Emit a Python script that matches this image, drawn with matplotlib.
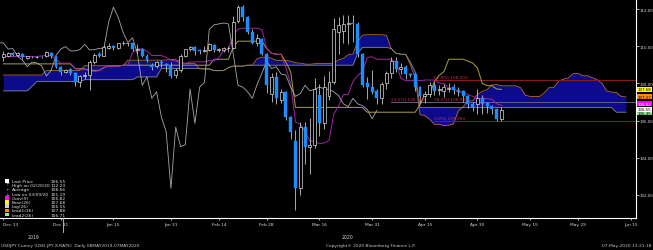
import numpy as np
import pandas as pd
import matplotlib
matplotlib.use("Agg")
import matplotlib.pyplot as plt
from matplotlib.patches import Rectangle
from matplotlib.lines import Line2D

# daily USDJPY bars, 13 Dec 2019 .. 07 May 2020 (weekdays)
opens = [109.40, 109.45, 109.62, 109.55, 109.60, 109.38, 109.42, 109.40, 109.42, 109.45,
         109.65, 109.45, 108.90, 108.62, 108.75, 108.55, 108.10, 108.40, 108.45, 109.15,
         109.58, 109.48, 109.92, 110.00, 109.90, 110.15, 110.15, 110.18, 109.82, 109.85,
         109.50, 109.00, 108.95, 109.15, 109.05, 108.95, 108.45, 108.70, 109.50, 109.85,
         109.98, 109.80, 109.75, 109.78, 110.05, 109.80, 109.78, 109.88, 109.90, 111.35,
         112.10, 111.55, 110.75, 110.20, 110.40, 109.60, 107.45, 108.35, 107.10, 107.55,
         106.20, 104.90, 102.35, 105.65, 104.60, 104.70, 107.35, 105.85, 107.30, 108.10,
         110.75, 110.80, 111.20, 111.25, 111.20, 109.60, 108.00, 107.80, 107.60, 107.20,
         108.00, 108.55, 109.20, 108.80, 108.90, 108.50, 108.50, 107.80, 107.30, 107.45,
         107.90, 107.62, 107.60, 107.70, 107.80, 107.66, 107.60, 107.30, 106.90, 106.90,
         107.20, 106.97, 106.80, 106.64, 106.10]
highs = [109.75, 109.70, 109.70, 109.70, 109.65, 109.50, 109.50, 109.48, 109.45, 109.72,
         109.70, 109.50, 108.95, 108.75, 108.85, 108.60, 108.45, 108.60, 109.25, 109.65,
         109.70, 110.05, 110.20, 110.05, 110.20, 110.30, 110.20, 110.20, 110.10, 109.90,
         109.60, 109.10, 109.20, 109.25, 109.10, 109.15, 108.85, 109.60, 109.85, 110.00,
         110.02, 109.85, 110.00, 110.15, 110.10, 109.90, 109.95, 110.00, 111.60, 112.23,
         112.20, 111.65, 110.95, 110.65, 110.45, 109.65, 108.55, 108.60, 107.70, 107.60,
         106.25, 105.50, 105.90, 105.95, 106.15, 108.30, 107.95, 108.40, 108.65, 111.50,
         111.55, 111.70, 111.70, 111.70, 111.30, 109.65, 108.35, 108.70, 107.70, 108.05,
         108.65, 109.40, 109.40, 109.10, 109.00, 108.55, 108.55, 107.85, 107.60, 108.10,
         108.10, 107.90, 107.95, 108.00, 107.95, 107.80, 107.65, 107.35, 107.00, 107.70,
         107.35, 107.00, 106.85, 106.70, 106.75]
lows = [109.20, 109.40, 109.50, 109.50, 109.30, 109.30, 109.35, 109.35, 109.38, 109.40,
        109.35, 108.85, 108.45, 108.55, 108.45, 107.85, 107.80, 108.25, 107.65, 109.05,
        109.40, 109.45, 109.85, 109.80, 109.85, 110.05, 110.00, 109.75, 109.60, 109.40,
        109.15, 108.70, 108.85, 108.90, 108.60, 108.30, 108.30, 108.60, 109.40, 109.75,
        109.55, 109.60, 109.70, 109.75, 109.70, 109.70, 109.70, 109.70, 109.85, 111.25,
        111.35, 110.65, 110.10, 110.00, 109.55, 107.50, 107.00, 106.90, 106.95, 106.05,
        105.00, 101.19, 102.00, 103.65, 103.10, 104.50, 105.15, 105.55, 107.10, 107.95,
        109.60, 110.20, 110.10, 110.25, 109.40, 107.80, 107.15, 107.45, 106.90, 106.90,
        107.70, 108.30, 108.60, 108.50, 108.25, 108.35, 107.60, 106.95, 106.95, 107.25,
        107.40, 107.40, 107.25, 107.55, 107.45, 107.30, 107.00, 106.70, 106.50, 106.35,
        106.35, 106.40, 106.35, 105.99, 106.00]
closes = [109.60, 109.62, 109.55, 109.62, 109.40, 109.45, 109.40, 109.42, 109.40, 109.68,
          109.45, 108.90, 108.62, 108.72, 108.55, 108.10, 108.40, 108.45, 109.15, 109.55,
          109.48, 109.95, 110.02, 109.90, 110.15, 110.18, 110.18, 109.85, 109.87, 109.45,
          109.25, 108.90, 109.15, 109.10, 108.95, 108.40, 108.70, 109.50, 109.85, 109.98,
          109.75, 109.75, 109.82, 110.10, 109.80, 109.82, 109.88, 109.90, 111.30, 112.10,
          111.55, 110.75, 110.20, 110.45, 109.60, 107.90, 108.35, 107.20, 107.55, 106.20,
          105.40, 102.35, 105.65, 104.60, 104.70, 107.70, 105.85, 107.80, 108.05, 110.90,
          111.15, 111.20, 111.25, 111.20, 109.60, 107.90, 107.80, 107.55, 107.20, 107.95,
          108.55, 109.20, 108.80, 108.90, 108.50, 108.45, 107.80, 107.30, 107.45, 107.90,
          107.60, 107.68, 107.80, 107.72, 107.66, 107.55, 107.34, 106.90, 106.75, 107.20,
          106.90, 106.80, 106.60, 106.10, 106.55]

# ichimoku lines as shown on the chart
conv = [109.45] * 8 + [109.48, 109.51, 109.51, 109.29, 109.09, 109.09, 109.09, 108.79, 108.76, 108.76,
        108.68, 108.65, 108.68, 108.85, 108.93, 108.93, 108.93, 108.98, 108.98, 109.68, 109.85, 109.85,
        109.73, 109.50, 109.50, 109.50, 109.40, 109.25, 109.20, 109.10, 109.08, 109.15, 109.16, 109.16,
        109.16, 109.23, 109.23, 109.38, 109.78, 109.85, 110.58, 110.92, 110.97, 110.97, 110.97, 110.97,
        110.89, 109.87, 109.62, 109.57, 109.55, 108.85, 107.98, 105.92, 105.82, 105.42, 104.90, 104.90,
        104.75, 104.80, 104.92, 106.35, 106.78, 107.40, 107.40, 108.10, 108.43, 108.63, 109.40, 109.43,
        109.30, 109.30, 109.30, 109.30, 109.10, 108.28, 108.15, 108.15, 108.15, 108.15, 108.18, 108.18,
        108.18, 108.03, 107.98, 107.75, 107.75, 107.53, 107.53, 107.40, 107.30, 107.18, 107.18, 107.18,
        107.15, 106.90, 106.82]
base = [109.05] * 15 + [108.80, 108.78, 108.78, 108.70, 108.70, 108.70, 108.85, 108.93, 108.93, 108.93] \
    + [108.98] * 19 + [109.30] * 4 + [109.95] + [110.27] * 6 \
    + [109.87, 109.62, 109.57, 109.57, 109.14, 108.62] + [106.71] * 14 + [106.70] + [106.45] * 11 \
    + [106.85, 107.40, 107.40, 108.10, 108.43, 108.63, 109.30, 109.30, 109.30, 109.30,
       109.20, 109.10, 108.83, 108.00, 107.88, 107.88, 107.70, 107.68]
lead1 = [108.45] * 9 + [108.70] * 8 + [108.95] * 9 + [109.25] * 8 \
    + [109.26, 109.28, 109.28, 109.17, 109.07, 109.07, 109.07, 108.79, 108.77, 108.77,
       108.69, 108.68, 108.69, 108.85, 108.93, 108.93, 108.93, 108.98, 108.98, 109.33,
       109.41, 109.41, 109.35, 109.24, 109.24, 109.24, 109.19, 109.11, 109.09, 109.04,
       109.03, 109.06, 109.07, 109.07, 109.07, 109.10, 109.26, 109.34, 109.54, 109.58,
       110.26, 110.59, 110.62, 110.62, 110.62, 110.62, 110.58, 109.87, 109.62, 109.57,
       109.56, 109.00, 108.30, 106.32, 106.27, 106.07, 105.80, 105.80, 105.73, 105.75,
       105.82, 106.53, 106.74, 107.06, 107.06, 107.41, 107.57, 107.66, 107.92, 107.94,
       107.87, 107.87, 107.87, 107.87, 107.77, 107.36, 107.30, 107.30, 107.30, 107.50,
       107.79, 107.79, 108.14, 108.23, 108.30, 108.53, 108.53, 108.41, 108.41, 108.30,
       108.20, 108.00, 107.59, 107.53, 107.51, 107.30, 107.27]
lead2 = [107.60] * 6 + [107.85] + [108.10] * 10 + [108.20] * 11 + [108.35] * 5 + [108.80] * 8 \
    + [108.79] * 3 + [108.69] * 3 + [108.85] + [108.93] * 3 + [108.98] * 23 + [109.63] \
    + [109.94] * 6 + [109.87, 109.62, 109.57, 109.57, 109.14, 108.62] + [106.71] * 40 \
    + [106.70] + [106.45] * 3

tick_dates = ["2019-12-13", "2019-12-31", "2020-01-15", "2020-01-31", "2020-02-14", "2020-02-28",
              "2020-03-16", "2020-03-31", "2020-04-15", "2020-04-30", "2020-05-15", "2020-05-29",
              "2020-06-15"]
tick_labels = ["Dec 13", "Dec 31", "Jan 15", "Jan 31", "Feb 14", "Feb 28", "Mar 16", "Mar 31",
               "Apr 15", "Apr 30", "May 15", "May 29", "Jun 15"]

legend_names = ["Last Price", "High on 02/20/20", "Average", "Low on 03/09/20", "Conv(9)",
                "Base(26)", "Lag(26)", "Lead1(26)", "Lead2(26)"]
legend_values = ["106.55", "112.23", "108.66", "101.19", "106.82", "107.68", "106.55", "107.88", "106.71"]

fib_labels = ["23.6%| 106.759", "38.2%| 106.991", "61.8%| 108.203", "0.0%| 105.993"]
fib_levels = [107.02, 107.02, 108.20, 105.99]

days = pd.bdate_range("2019-12-13", "2020-06-30")
x = np.arange(len(opens))
xl = np.arange(len(lead1))
W, H = 653, 251

BG = "black"
BLUE = "#1c8cff"
fig = plt.figure(figsize=(W / 100, H / 100), dpi=100, facecolor=BG)
ax = fig.add_axes([0, 32 / H, 636 / W, 219 / H], facecolor=BG)
ax.set_xlim(-0.69, 132.1)
ax.set_ylim(100.76, 112.54)

# cloud
ax.fill_between(xl, lead1, lead2, color="#0b0b8c", lw=0, zorder=1)
ax.plot(xl, lead1, color="#b8693a", lw=0.6, zorder=2)
ax.plot(xl, lead2, color="#7f8a78", lw=0.6, zorder=2)
ax.plot(x, base, color="#a8a040", lw=0.7, zorder=3)
ax.plot(x, conv, color="#a324a3", lw=0.7, zorder=3)
ax.plot(x - 26, closes, color="#a8a8a8", lw=0.6, zorder=3)

# fib lines
for lvl, c, x0 in [(108.20, "#8c1c1c", 90), (105.99, "#8c1c1c", 90), (107.02, "#6a5a8a", 81)]:
    ax.plot([x0, 132.1], [lvl, lvl], color=c, lw=0.7, zorder=2)
for lab, lvl, xx in zip(fib_labels, fib_levels, [81, 90, 90, 90]):
    ax.text(xx, lvl + 0.08, lab, color="#d02a55", fontsize=3.1, va="bottom", ha="left", zorder=6)

# candles
op, cl, hi, lo = map(np.array, (opens, closes, highs, lows))
up = cl >= op
ax.vlines(x, lo, hi, color="#c4c4c4", lw=0.6, zorder=4)
body = np.maximum(np.abs(cl - op), 0.03)
bot = np.minimum(op, cl)
ax.bar(x[up], body[up], bottom=bot[up], width=0.62, color=BG, edgecolor="#dcdcdc", lw=0.5, zorder=5)
ax.bar(x[~up], body[~up], bottom=bot[~up], width=0.62, color=BLUE, edgecolor=BLUE, lw=0.3, zorder=5)

# axes styling
for s in ["left", "top"]:
    ax.spines[s].set_visible(False)
for s in ["right", "bottom"]:
    ax.spines[s].set_color("white")
    ax.spines[s].set_linewidth(0.8)
ax.yaxis.tick_right()
ax.set_yticks(np.arange(102, 113, 2))
ax.set_yticklabels([f"{v:.2f}" for v in np.arange(102, 113, 2)])
ax.tick_params(axis="y", colors="white", labelsize=2.9, length=2, width=0.5, pad=0.8, labelcolor="#d8d8d8")
tick_pos = [days.get_loc(pd.Timestamp(d)) for d in tick_dates]
ax.set_xticks(tick_pos)
ax.set_xticklabels(tick_labels)
ax.tick_params(axis="x", colors="white", labelsize=3.2, length=1.5, width=0.5, pad=1.5, labelcolor="#d8d8d8")
ax.get_xticklabels()[0].set_horizontalalignment("left")

# price tags on right axis
tags = [(base[-1], "107.68", "#ffff00", "black", 0),
        (lead1[-1], "107.27", "#ff8c00", "black", 0),
        (conv[-1], "106.82", "#ff00ff", "white", 1.0),
        (lead2[-1], "106.45", "#90ee90", "black", -0.5),
        (closes[-1], "106.55", "white", "black", 0.8)]
for val, txt, fc, tc, dy in tags:
    ax.annotate(txt, xy=(1.0, val), xycoords=("axes fraction", "data"), xytext=(1.3, dy),
                textcoords="offset points", fontsize=2.9, color=tc, va="center", ha="left",
                bbox=dict(boxstyle="square,pad=0.12", fc=fc, ec="none"), annotation_clip=False, zorder=8)


def px(xp, yp):
    return xp / W, 1 - yp / H


# year separator and year labels
sep = days.get_loc(pd.Timestamp("2019-12-31")) + 0.5
xs = ax.transData.transform((sep, 0))[0] / fig.dpi / fig.get_figwidth()
fig.add_artist(Line2D([xs, xs], [px(0, 219)[1], px(0, 233)[1]], color="#c8c8c8", lw=0.6))
fig.text(*px(33, 238), "2019", color="#d8d8d8", fontsize=3.3, ha="center", va="center")
fig.text(*px(348, 238), "2020", color="#d8d8d8", fontsize=3.3, ha="center", va="center")

# footer
fig.text(*px(1, 246), "USDJPY Curncy (USD-JPY X-RATE)  Daily 08MAY2019-07MAY2020", color="#c8c8c8",
         fontsize=3.2, ha="left", va="center")
fig.text(*px(326, 246), "Copyright\u00ae 2020 Bloomberg Finance L.P.", color="#c8c8c8",
         fontsize=3.2, ha="left", va="center")
fig.text(*px(652, 246), "07-May-2020 13:21:18", color="#c8c8c8", fontsize=3.2, ha="right", va="center")

# legend block
fig.add_artist(Rectangle(px(2, 218), 66 / W, 41 / H, transform=fig.transFigure, fc=BG, ec="none", zorder=9))
marks = [("sq", "white"), ("txt", "\u22a4"), ("txt", "+"), ("txt", "\u22a5"), ("sq", "#ff00ff"),
         ("sq", "#ffff00"), ("sq", "#d0d0d0"), ("sq", "#ff8c00"), ("sq", "#90ee90")]
for k, (name, val, (kind, m)) in enumerate(zip(legend_names, legend_values, marks)):
    yy = 182 + 4.2 * k
    if kind == "sq":
        fig.add_artist(Rectangle(px(5, yy + 1.7), 4 / W, 3.4 / H, transform=fig.transFigure,
                                 fc=m, ec="none", zorder=10))
    else:
        t = fig.text(*px(7, yy), m, color="#c0c0c0", fontsize=3.2, ha="center", va="center")
        t.set_zorder(10)
    t1 = fig.text(*px(12, yy), name, color="#e0e0e0", fontsize=3.2, ha="left", va="center")
    t2 = fig.text(*px(66, yy), val, color="#e0e0e0", fontsize=3.2, ha="right", va="center")
    t1.set_zorder(10)
    t2.set_zorder(10)

fig.savefig("out.png", dpi=100, facecolor=BG)
